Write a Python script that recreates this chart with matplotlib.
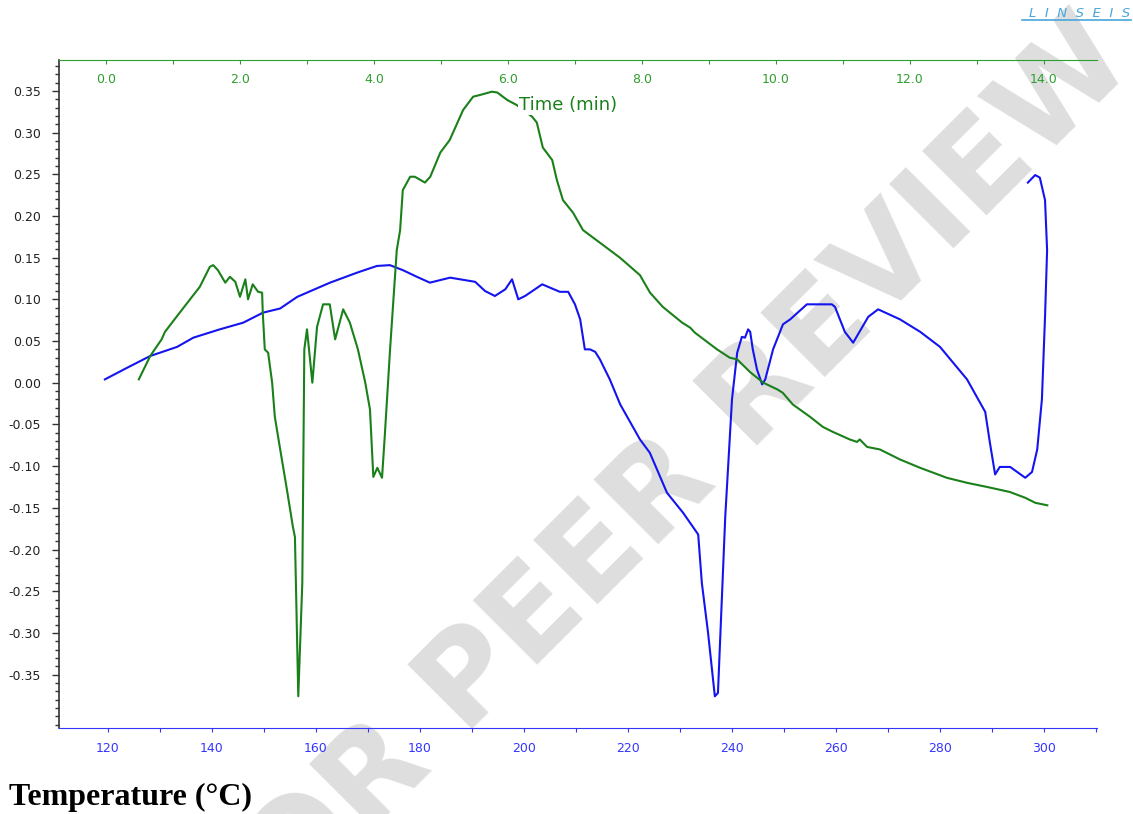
import matplotlib
matplotlib.use("Agg")
import matplotlib.pyplot as plt
import numpy as np
from matplotlib.ticker import MultipleLocator, FormatStrFormatter, FuncFormatter
from matplotlib.lines import Line2D

# blue trace, plotted against temperature (bottom axis)
temp_c = [119.4, 123.7, 128.1, 133.3, 136.4, 141.5, 146.0, 149.8, 153.1, 156.4,
          162.7, 167.9, 171.7, 174.2, 176.7, 179.4, 181.9, 185.8, 187.7, 190.6,
          192.5, 194.4, 196.4, 197.7, 198.9, 200.2, 202.1, 203.5, 205.0, 206.9,
          208.5, 209.8, 210.8, 211.7, 212.7, 213.7, 214.6, 216.5, 218.5, 222.3,
          224.2, 227.5, 230.6, 232.5, 233.5, 234.2, 235.4, 236.7, 237.3, 238.7,
          240.0, 241.0, 241.9, 242.5, 243.1, 243.5, 244.0, 244.8, 245.8, 246.4,
          247.9, 249.8, 251.2, 254.4, 259.2, 259.8, 261.7, 263.3, 266.2, 268.1,
          272.3, 276.2, 280.0, 285.2, 288.7, 289.6, 290.6, 291.5, 293.5, 296.4,
          297.7, 298.7, 299.6, 300.2, 300.6, 300.2, 299.2, 298.3, 296.9]
blue_val = [0.004, 0.018, 0.032, 0.043, 0.054, 0.064, 0.072, 0.084, 0.089, 0.103,
            0.120, 0.132, 0.140, 0.141, 0.135, 0.127, 0.120, 0.126, 0.124, 0.121,
            0.110, 0.104, 0.112, 0.124, 0.100, 0.104, 0.112, 0.118, 0.114, 0.109,
            0.109, 0.094, 0.076, 0.040, 0.040, 0.037, 0.028, 0.004, -0.026, -0.068,
            -0.084, -0.132, -0.156, -0.173, -0.182, -0.240, -0.300, -0.376, -0.372, -0.161,
            -0.020, 0.036, 0.055, 0.054, 0.064, 0.061, 0.040, 0.016, -0.002, 0.004,
            0.040, 0.070, 0.076, 0.094, 0.094, 0.091, 0.061, 0.048, 0.079, 0.088,
            0.076, 0.061, 0.043, 0.004, -0.035, -0.072, -0.110, -0.101, -0.101, -0.114,
            -0.107, -0.080, -0.020, 0.079, 0.159, 0.219, 0.246, 0.249, 0.240]

# green trace, plotted against time (top axis)
time_min = [0.49, 0.66, 0.83, 0.88, 1.10, 1.40, 1.55, 1.60, 1.67, 1.78,
            1.85, 1.93, 2.00, 2.08, 2.12, 2.19, 2.27, 2.33, 2.34, 2.37,
            2.42, 2.48, 2.52, 2.60, 2.70, 2.79, 2.82, 2.87, 2.93, 2.96,
            3.00, 3.08, 3.15, 3.24, 3.34, 3.42, 3.54, 3.64, 3.76, 3.87,
            3.94, 3.99, 4.05, 4.12, 4.16, 4.24, 4.34, 4.39, 4.43, 4.54,
            4.61, 4.76, 4.84, 4.99, 5.13, 5.33, 5.48, 5.58, 5.76, 5.84,
            5.99, 6.13, 6.36, 6.43, 6.52, 6.66, 6.73, 6.82, 6.97, 7.12,
            7.37, 7.67, 7.97, 8.12, 8.31, 8.60, 8.72, 8.79, 9.12, 9.31,
            9.42, 9.61, 9.81, 10.02, 10.10, 10.25, 10.51, 10.70, 10.85, 11.10,
            11.21, 11.25, 11.36, 11.55, 11.85, 12.15, 12.55, 12.85, 13.15, 13.49,
            13.72, 13.87, 14.05]
green_val = [0.004, 0.032, 0.052, 0.061, 0.084, 0.115, 0.139, 0.141, 0.135, 0.120,
             0.127, 0.121, 0.103, 0.124, 0.100, 0.118, 0.109, 0.108, 0.084, 0.040,
             0.036, 0.000, -0.041, -0.080, -0.128, -0.173, -0.185, -0.376, -0.240, 0.040,
             0.064, 0.000, 0.067, 0.094, 0.094, 0.052, 0.088, 0.072, 0.040, 0.000,
             -0.032, -0.113, -0.102, -0.114, -0.065, 0.040, 0.159, 0.183, 0.231, 0.247,
             0.247, 0.240, 0.247, 0.276, 0.291, 0.327, 0.343, 0.345, 0.349, 0.348,
             0.339, 0.333, 0.319, 0.312, 0.282, 0.267, 0.243, 0.219, 0.204, 0.183,
             0.168, 0.150, 0.129, 0.108, 0.091, 0.072, 0.066, 0.060, 0.040, 0.030,
             0.028, 0.013, 0.000, -0.008, -0.012, -0.026, -0.041, -0.053, -0.059, -0.068,
             -0.071, -0.068, -0.077, -0.080, -0.092, -0.102, -0.114, -0.120, -0.125, -0.131,
             -0.138, -0.144, -0.147]

green_line = '#1a801a'
green_txt = '#2f9e2f'
blue_line = '#1414f0'
blue_txt = '#3535ff'

fig = plt.figure(figsize=(11.33, 8.14), dpi=100)
fig.patch.set_facecolor('white')

# watermark behind everything
fig.text(0.582, 0.393, 'FOR PEER REVIEW', fontsize=90, fontweight='bold',
         color='#dedede', rotation=45, rotation_mode='anchor',
         ha='center', va='center', zorder=-1)

ax = fig.add_axes([0.0521, 0.1057, 0.9161, 0.8206])
ax.patch.set_visible(False)
ax.plot(temp_c, blue_val, color=blue_line, lw=1.5, zorder=3)
ax.set_xlim(110.58, 310.19)
ax.set_ylim(-0.414, 0.387)
ax.set_xticks(np.arange(120, 301, 20))
ax.xaxis.set_minor_locator(MultipleLocator(10))
ax.set_yticks(np.arange(-0.35, 0.351, 0.05))
ax.yaxis.set_minor_locator(MultipleLocator(0.01))
ax.yaxis.set_major_formatter(FuncFormatter(lambda v, p: '%.2f' % (round(v, 3) + 0.0)))
ax.tick_params(axis='x', which='both', direction='out', length=3, width=0.8,
               color=blue_txt, labelcolor=blue_txt, labelsize=9, pad=7)
ax.tick_params(axis='y', which='major', direction='out', length=5, width=1,
               color='#333333', labelcolor='#222222', labelsize=9, pad=8)
ax.tick_params(axis='y', which='minor', direction='out', length=3, width=1,
               color='#333333')
ax.spines['right'].set_visible(False)
ax.spines['top'].set_visible(False)
ax.spines['bottom'].set_color(blue_txt)
ax.spines['left'].set_color('#333333')
ax.spines['left'].set_linewidth(1.2)

ax2 = ax.twiny()
ax2.plot(time_min, green_val, color=green_line, lw=1.5, zorder=3)
ax2.set_xlim(-0.701, 14.791)
ax2.set_xticks(np.arange(0, 14.1, 2))
ax2.xaxis.set_minor_locator(MultipleLocator(1))
ax2.xaxis.set_major_formatter(FormatStrFormatter('%.1f'))
ax2.tick_params(axis='x', which='both', direction='in', length=3, width=0.8,
                color=green_txt, labelcolor=green_txt, labelsize=9, pad=-19)
for s in ['left', 'right', 'bottom']:
    ax2.spines[s].set_visible(False)
ax2.spines['top'].set_color(green_txt)

ax2.text(0.443, 0.9326, 'Time (min)', transform=ax2.transAxes, fontsize=13,
         color=green_line, ha='left', va='center', zorder=5,
         bbox=dict(facecolor='white', edgecolor='none', pad=0.5))

fig.text(0.008, 0.011, 'Temperature (°C)', fontsize=23, fontweight='bold',
         family='Liberation Serif', color='black', ha='left', va='baseline')

# instrument logo
fig.text(0.9525, 0.9835, 'L  I  N  S  E  I  S', fontsize=9.5, style='italic',
         color='#4aa6dc', ha='center', va='center')
fig.add_artist(Line2D([0.902, 0.998], [0.9755, 0.9755], transform=fig.transFigure,
                      color='#4aa6dc', lw=1.2))

fig.savefig('out.png', dpi=100)
